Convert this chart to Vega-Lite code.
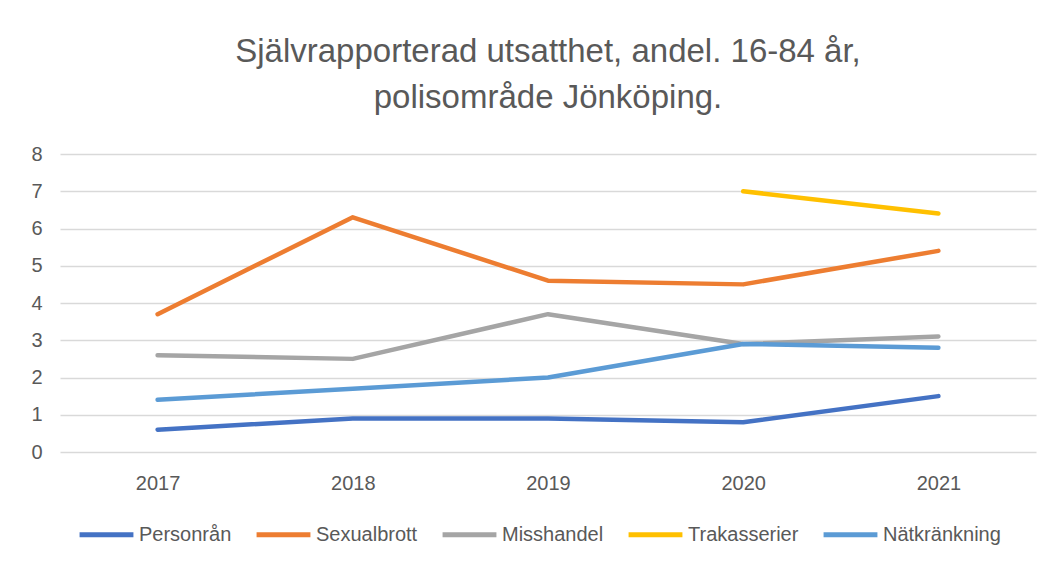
{
  "$schema": "https://vega.github.io/schema/vega-lite/v6.json",
  "autosize": {"type": "none"},
  "width": 976,
  "height": 298,
  "padding": {"left": 60, "top": 154, "right": 15, "bottom": 115},
  "background": "white",
  "title": {
    "text": ["Självrapporterad utsatthet, andel. 16-84 år,", "polisområde Jönköping."],
    "font": "Liberation Sans",
    "fontSize": 33,
    "fontWeight": "normal",
    "color": "#595959",
    "lineHeight": 46,
    "anchor": "middle",
    "offset": 29
  },
  "data": {
    "values": [
      {"year": "2017", "serie": "Personrån", "value": 0.6},
      {"year": "2018", "serie": "Personrån", "value": 0.9},
      {"year": "2019", "serie": "Personrån", "value": 0.9},
      {"year": "2020", "serie": "Personrån", "value": 0.8},
      {"year": "2021", "serie": "Personrån", "value": 1.5},
      {"year": "2017", "serie": "Sexualbrott", "value": 3.7},
      {"year": "2018", "serie": "Sexualbrott", "value": 6.3},
      {"year": "2019", "serie": "Sexualbrott", "value": 4.6},
      {"year": "2020", "serie": "Sexualbrott", "value": 4.5},
      {"year": "2021", "serie": "Sexualbrott", "value": 5.4},
      {"year": "2017", "serie": "Misshandel", "value": 2.6},
      {"year": "2018", "serie": "Misshandel", "value": 2.5},
      {"year": "2019", "serie": "Misshandel", "value": 3.7},
      {"year": "2020", "serie": "Misshandel", "value": 2.9},
      {"year": "2021", "serie": "Misshandel", "value": 3.1},
      {"year": "2020", "serie": "Trakasserier", "value": 7.0},
      {"year": "2021", "serie": "Trakasserier", "value": 6.4},
      {"year": "2017", "serie": "Nätkränkning", "value": 1.4},
      {"year": "2018", "serie": "Nätkränkning", "value": 1.7},
      {"year": "2019", "serie": "Nätkränkning", "value": 2.0},
      {"year": "2020", "serie": "Nätkränkning", "value": 2.9},
      {"year": "2021", "serie": "Nätkränkning", "value": 2.8}
    ]
  },
  "mark": {"type": "line", "strokeWidth": 4.5, "strokeCap": "round", "strokeJoin": "round"},
  "encoding": {
    "x": {
      "field": "year", "type": "ordinal", "title": null,
      "scale": {"type": "point", "padding": 0.5},
      "axis": {"domain": false, "ticks": false, "labelAngle": 0, "labelFontSize": 20, "labelColor": "#595959", "labelFont": "Liberation Sans", "labelPadding": 21, "grid": false}
    },
    "y": {
      "field": "value", "type": "quantitative", "title": null,
      "scale": {"domain": [0, 8], "nice": false},
      "axis": {"domain": false, "ticks": false, "values": [0,1,2,3,4,5,6,7,8], "labelOverlap": false, "labelFontSize": 20, "labelColor": "#595959", "labelFont": "Liberation Sans", "labelPadding": 18, "gridColor": "#d9d9d9", "gridWidth": 1.5}
    },
    "color": {
      "field": "serie", "type": "nominal", "title": null,
      "scale": {
        "domain": ["Personrån", "Sexualbrott", "Misshandel", "Trakasserier", "Nätkränkning"],
        "range": ["#4472C4", "#ED7D31", "#A5A5A5", "#FFC000", "#5B9BD5"]
      },
      "legend": {
        "orient": "none", "legendX": 17, "legendY": 351, "direction": "horizontal", "symbolType": "stroke", "symbolStrokeWidth": 5,
        "symbolSize": 2900, "labelFontSize": 20, "labelColor": "#595959",
        "labelFont": "Liberation Sans", "columnPadding": 14, "labelOffset": 3
      }
    }
  },
  "config": {"view": {"stroke": null}}
}
